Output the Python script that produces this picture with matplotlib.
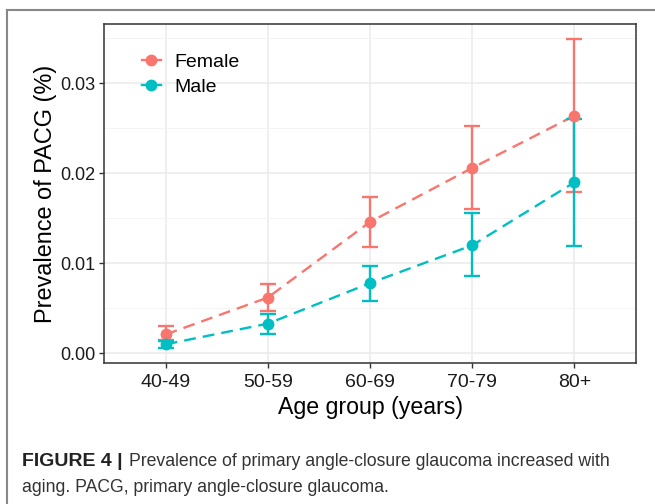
import matplotlib
matplotlib.use("Agg")
import matplotlib.pyplot as plt
from matplotlib.lines import Line2D

plt.rcParams['font.family'] = ['Liberation Sans', 'DejaVu Sans']

# data
age_groups = ['40-49', '50-59', '60-69', '70-79', '80+']
female = [0.0021, 0.0062, 0.0146, 0.0206, 0.0264]
female_lo = [0.0015, 0.0047, 0.0118, 0.0160, 0.0179]
female_hi = [0.0030, 0.0077, 0.0174, 0.0253, 0.0349]
male = [0.0010, 0.0033, 0.0078, 0.0120, 0.0190]
male_lo = [0.0006, 0.0022, 0.0058, 0.0086, 0.0119]
male_hi = [0.0014, 0.0044, 0.0097, 0.0156, 0.0260]

female_col = '#F8766D'
male_col = '#00BFC4'

fig = plt.figure(figsize=(6.55, 5.04), dpi=100)
ax = fig.add_axes([0.1594, 0.2804, 0.8111, 0.6714])

x = list(range(1, len(age_groups) + 1))
for vals, lo, hi, col in [(female, female_lo, female_hi, female_col),
                          (male, male_lo, male_hi, male_col)]:
    yerr = [[v - l for v, l in zip(vals, lo)], [h - v for v, h in zip(vals, hi)]]
    ax.errorbar(x, vals, yerr=yerr, fmt='none', ecolor=col, elinewidth=1.7,
                capsize=5.5, capthick=1.7, zorder=3)
    ax.plot(x, vals, color=col, lw=1.7, dashes=(5, 3), zorder=3)
    ax.plot(x, vals, 'o', color=col, ms=7.5, zorder=4)

ax.set_xlim(0.4, 5.6)
ax.set_ylim(-0.00104, 0.03656)
ax.set_xticks(x)
ax.set_xticklabels(age_groups)
ax.set_yticks([0.0, 0.01, 0.02, 0.03])
ax.set_yticklabels(['0.00', '0.01', '0.02', '0.03'])
ax.set_yticks([0.005, 0.015, 0.025, 0.035], minor=True)

ax.grid(True, which='major', color='#EBEBEB', lw=1.1, zorder=0)
ax.grid(True, which='minor', axis='y', color='#F3F3F3', lw=0.6, zorder=0)
ax.set_axisbelow(True)
for s in ax.spines.values():
    s.set_color('#333333')
    s.set_linewidth(1.1)
ax.tick_params(which='major', length=3.5, color='#333333',
               labelcolor='#1a1a1a', width=1)
ax.tick_params(axis='x', labelsize=14, pad=5)
ax.tick_params(axis='y', labelsize=13, pad=3)
ax.tick_params(which='minor', length=0)

ax.set_xlabel('Age group (years)', fontsize=16.7, labelpad=3)
ax.set_ylabel('Prevalence of PACG (%)', fontsize=16.9, labelpad=2)

handles = [Line2D([], [], color=female_col, marker='o', ms=7.5, lw=1.7),
           Line2D([], [], color=male_col, marker='o', ms=7.5, lw=1.7)]
ax.legend(handles, ['Female', 'Male'], loc='upper left', frameon=False,
          fontsize=14, handlelength=1.0, handletextpad=0.7, labelspacing=0.35,
          bbox_to_anchor=(0.037, 0.965))

# figure frame and caption
fig.add_artist(Line2D([7 / 655, 7 / 655], [0, 1 - 10 / 504], color='#888888', lw=1.5))
fig.add_artist(Line2D([7 / 655, 1], [1 - 10 / 504, 1 - 10 / 504], color='#888888', lw=1.5))

fig.text(22 / 655, 1 - 462 / 504, 'FIGURE 4 |', fontsize=14, va='center',
         fontweight='bold', color='#222222')
fig.text(129 / 655, 1 - 462 / 504,
         'Prevalence of primary angle-closure glaucoma increased with',
         fontsize=12.7, va='center', color='#333333')
fig.text(22 / 655, 1 - 487 / 504, 'aging. PACG, primary angle-closure glaucoma.',
         fontsize=12.7, va='center', color='#333333')

fig.savefig('out.png', dpi=100)
